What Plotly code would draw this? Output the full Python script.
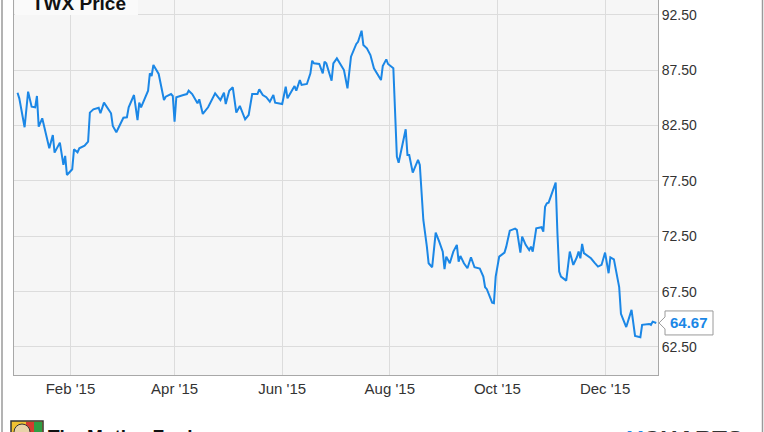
import plotly.graph_objects as go

# ---- data ----
dates = [
    "2015-01-02", "2015-01-03", "2015-01-06", "2015-01-08", "2015-01-10", "2015-01-12", "2015-01-13",
    "2015-01-14", "2015-01-16", "2015-01-20", "2015-01-22", "2015-01-23", "2015-01-26", "2015-01-28",
    "2015-01-29", "2015-01-30", "2015-02-02", "2015-02-03", "2015-02-05", "2015-02-06", "2015-02-09",
    "2015-02-11", "2015-02-12", "2015-02-14", "2015-02-17", "2015-02-18", "2015-02-20", "2015-02-24",
    "2015-02-25", "2015-02-27", "2015-03-03", "2015-03-05", "2015-03-06", "2015-03-09", "2015-03-11",
    "2015-03-12", "2015-03-13", "2015-03-17", "2015-03-18", "2015-03-19", "2015-03-20", "2015-03-23",
    "2015-03-26", "2015-03-27", "2015-03-30", "2015-03-31", "2015-04-01", "2015-04-02", "2015-04-06",
    "2015-04-08", "2015-04-09", "2015-04-11", "2015-04-14", "2015-04-15", "2015-04-17", "2015-04-20",
    "2015-04-24", "2015-04-27", "2015-04-29", "2015-04-30", "2015-05-02", "2015-05-04", "2015-05-06",
    "2015-05-08", "2015-05-11", "2015-05-13", "2015-05-15", "2015-05-18", "2015-05-19", "2015-05-21",
    "2015-05-23", "2015-05-25", "2015-05-27", "2015-05-28", "2015-06-01", "2015-06-03", "2015-06-04",
    "2015-06-08", "2015-06-09", "2015-06-11", "2015-06-12", "2015-06-15", "2015-06-17", "2015-06-18",
    "2015-06-19", "2015-06-22", "2015-06-24", "2015-06-25", "2015-06-26", "2015-06-29", "2015-06-30",
    "2015-07-02", "2015-07-06", "2015-07-08", "2015-07-10", "2015-07-13", "2015-07-14", "2015-07-16",
    "2015-07-17", "2015-07-19", "2015-07-21", "2015-07-23", "2015-07-27", "2015-07-28", "2015-07-30",
    "2015-07-31", "2015-08-03", "2015-08-05", "2015-08-06", "2015-08-10", "2015-08-11", "2015-08-12",
    "2015-08-14", "2015-08-17", "2015-08-18", "2015-08-20", "2015-08-22", "2015-08-23", "2015-08-25",
    "2015-08-27", "2015-08-29", "2015-08-31", "2015-09-01", "2015-09-02", "2015-09-04", "2015-09-06",
    "2015-09-08", "2015-09-09", "2015-09-10", "2015-09-12", "2015-09-14", "2015-09-16", "2015-09-18",
    "2015-09-21", "2015-09-23", "2015-09-24", "2015-09-25", "2015-09-28", "2015-09-29", "2015-09-30",
    "2015-10-02", "2015-10-05", "2015-10-06", "2015-10-08", "2015-10-11", "2015-10-12", "2015-10-14",
    "2015-10-15", "2015-10-17", "2015-10-19", "2015-10-20", "2015-10-21", "2015-10-23", "2015-10-26",
    "2015-10-27", "2015-10-28", "2015-10-29", "2015-10-30", "2015-11-01", "2015-11-03", "2015-11-04",
    "2015-11-05", "2015-11-06", "2015-11-09", "2015-11-11", "2015-11-13", "2015-11-15", "2015-11-16",
    "2015-11-17", "2015-11-18", "2015-11-19", "2015-11-22", "2015-11-23", "2015-11-25", "2015-11-27",
    "2015-11-29", "2015-12-01", "2015-12-03", "2015-12-04", "2015-12-06", "2015-12-08", "2015-12-09",
    "2015-12-10", "2015-12-13", "2015-12-16", "2015-12-17", "2015-12-18", "2015-12-21", "2015-12-22",
    "2015-12-26", "2015-12-27", "2015-12-28", "2015-12-30",
]
prices = [
    85.46, 84.95, 82.34, 85.55, 84.20, 84.14, 85.16,
    82.40, 83.15, 80.44, 81.64, 80.05, 80.95, 78.94,
    79.75, 78.03, 78.55, 80.35, 80.08, 80.44, 80.68,
    81.04, 83.66, 83.96, 84.10, 83.60, 84.56, 83.60,
    82.45, 81.89, 83.20, 83.24, 84.14, 85.25, 82.99,
    84.56, 84.14, 85.64, 87.21, 86.97, 87.96, 87.15,
    84.80, 85.10, 85.34, 85.16, 82.84, 85.05, 85.25,
    85.34, 85.64, 85.34, 84.50, 84.86, 83.54, 84.14,
    85.40, 84.80, 85.46, 84.44, 85.64, 85.95, 83.66,
    84.26, 83.06, 83.45, 85.34, 85.34, 85.76, 85.25,
    85.05, 84.65, 85.25, 84.56, 84.44, 86.00, 84.95,
    86.06, 85.64, 86.60, 86.16, 86.25, 87.21, 88.35,
    88.11, 88.05, 87.21, 88.26, 88.11, 86.54, 88.11,
    88.56, 87.50, 85.86, 88.71, 89.86, 90.06, 91.06,
    89.77, 89.47, 88.86, 87.66, 86.60, 87.87, 88.47,
    88.05, 87.66, 79.68, 79.14, 82.16, 79.84, 79.84,
    78.24, 79.39, 78.94, 73.97, 71.56, 70.06, 69.70,
    72.83, 72.01, 71.11, 69.52, 70.66, 70.06, 71.11,
    71.72, 70.21, 70.72, 70.06, 69.61, 70.60, 69.70,
    69.58, 68.85, 67.90, 67.72, 66.50, 66.45, 68.85,
    70.66, 71.02, 71.56, 73.00, 73.19, 73.07, 71.02,
    72.46, 71.72, 71.26, 71.56, 71.11, 73.22, 73.31,
    72.91, 75.17, 75.47, 75.53, 76.44, 77.34, 72.77,
    69.30, 68.85, 68.49, 71.11, 69.91, 70.60, 71.11,
    70.51, 71.80, 70.97, 70.60, 70.51, 70.12, 69.76,
    69.91, 71.02, 69.16, 70.60, 70.42, 68.60, 67.90,
    65.50, 64.30, 65.85, 64.40, 63.50, 63.38, 64.50,
    64.58, 64.50, 64.79, 64.67,
]
series_name = "TWX Price"
x_tick_vals = ["2015-02-01", "2015-04-01", "2015-06-01", "2015-08-01", "2015-10-01", "2015-12-01"]
x_tick_text = ["Feb '15", "Apr '15", "Jun '15", "Aug '15", "Oct '15", "Dec '15"]
y_tick_vals = [62.5, 67.5, 72.5, 77.5, 82.5, 87.5, 92.5]

# ---- layout geometry (pixels) ----
W, H = 764, 432
L, R, T, B = 14, 658, 0, 375          # plot area edges in pixels
PW, PH = R - L, B - T
LINE_BLUE = "#1b87e6"
FONT = "Liberation Sans, Arial, sans-serif"


def px(xp):
    return (xp - L) / PW


def py(yp):
    return (B - yp) / PH


fig = go.Figure()
fig.add_trace(go.Scatter(
    x=dates, y=prices, mode="lines", name=series_name,
    line=dict(color=LINE_BLUE, width=2), hoverinfo="x+y",
))

fig.update_layout(
    width=W, height=H,
    margin=dict(l=L, r=W - R, t=T, b=H - B, autoexpand=False),
    paper_bgcolor="white",
    plot_bgcolor="#f6f6f6",
    showlegend=False,
    font=dict(family=FONT, color="#333333"),
    xaxis=dict(
        range=["2014-12-31", "2015-12-31"],
        tickvals=x_tick_vals, ticktext=x_tick_text,
        tickfont=dict(size=15, color="#333333"),
        showgrid=True, gridcolor="#dcdcdc", gridwidth=1,
        showline=True, linecolor="#a8a8a8", linewidth=1,
        ticks="", zeroline=False, automargin=False,
    ),
    yaxis=dict(
        side="right",
        range=[59.97, 93.83],
        tickvals=y_tick_vals, tickformat=".2f",
        tickfont=dict(size=14, color="#333333"),
        showgrid=True, gridcolor="#dcdcdc", gridwidth=1,
        showline=True, linecolor="#a8a8a8", linewidth=1, mirror=True,
        ticks="", zeroline=False, automargin=False,
    ),
)

shapes = []
# legend box (top-left, partially cropped)
shapes.append(dict(type="rect", xref="paper", yref="paper",
                   x0=px(L + 1), x1=px(138), y0=py(15), y1=py(-5),
                   fillcolor="#fafafa", line=dict(width=0), layer="above"))
# outer frame lines
shapes.append(dict(type="line", xref="paper", yref="paper",
                   x0=px(2), x1=px(2), y0=py(0), y1=py(H),
                   line=dict(color="#9a9a9a", width=1.5)))
shapes.append(dict(type="line", xref="paper", yref="paper",
                   x0=px(762.5), x1=px(762.5), y0=py(0), y1=py(H),
                   line=dict(color="#9a9a9a", width=1.5)))
# last-value callout box
shapes.append(dict(type="path", xref="paper", yref="y",
                   xsizemode="pixel", ysizemode="pixel",
                   xanchor=1, yanchor=prices[-1],
                   path="M 1 0 L 7 6 L 7 12 L 55 12 L 55 -12 L 7 -12 L 7 -6 Z",
                   fillcolor="white", line=dict(color="#9a9a9a", width=1)))
# Motley Fool logo (cropped at the bottom)
shapes.append(dict(type="rect", xref="paper", yref="paper",
                   x0=px(11), x1=px(43), y0=py(436), y1=py(421),
                   fillcolor="#f1c232", line=dict(color="#333333", width=1.5)))
shapes.append(dict(type="rect", xref="paper", yref="paper",
                   x0=px(26), x1=px(34), y0=py(436), y1=py(422),
                   fillcolor="#d63b2f", line=dict(width=0)))
shapes.append(dict(type="rect", xref="paper", yref="paper",
                   x0=px(34), x1=px(42), y0=py(436), y1=py(422),
                   fillcolor="#2f9e44", line=dict(width=0)))
shapes.append(dict(type="circle", xref="paper", yref="paper",
                   x0=px(14), x1=px(30), y0=py(440), y1=py(424),
                   fillcolor="#e8d3a8", line=dict(color="#333333", width=1)))
fig.update_layout(shapes=shapes)

annotations = [
    dict(text="<b>" + series_name + "</b>", xref="paper", yref="paper",
         x=px(30), y=py(3), xanchor="left", yanchor="middle", showarrow=False,
         font=dict(size=19, color="#111111", family=FONT)),
    dict(text="<b>%.2f</b>" % prices[-1], xref="paper", yref="y",
         x=px(689), y=prices[-1], xanchor="center", yanchor="middle", showarrow=False,
         font=dict(size=15, color=LINE_BLUE, family=FONT)),
    dict(text="<b>The Motley Fool</b>", xref="paper", yref="paper",
         x=px(46), y=py(424), xanchor="left", yanchor="top", showarrow=False,
         font=dict(size=19, color="#111111", family=FONT)),
    dict(text="<b><span style='color:#1b87e6'>Y</span>CHARTS</b>", xref="paper", yref="paper",
         x=px(745), y=py(424), xanchor="right", yanchor="top", showarrow=False,
         font=dict(size=24, color="#333333", family=FONT)),
]
fig.update_layout(annotations=annotations)

fig.write_html(
    "out.html",
    config={"displayModeBar": False},
    post_script="document.body.style.margin='0';document.body.style.overflow='hidden';",
)
